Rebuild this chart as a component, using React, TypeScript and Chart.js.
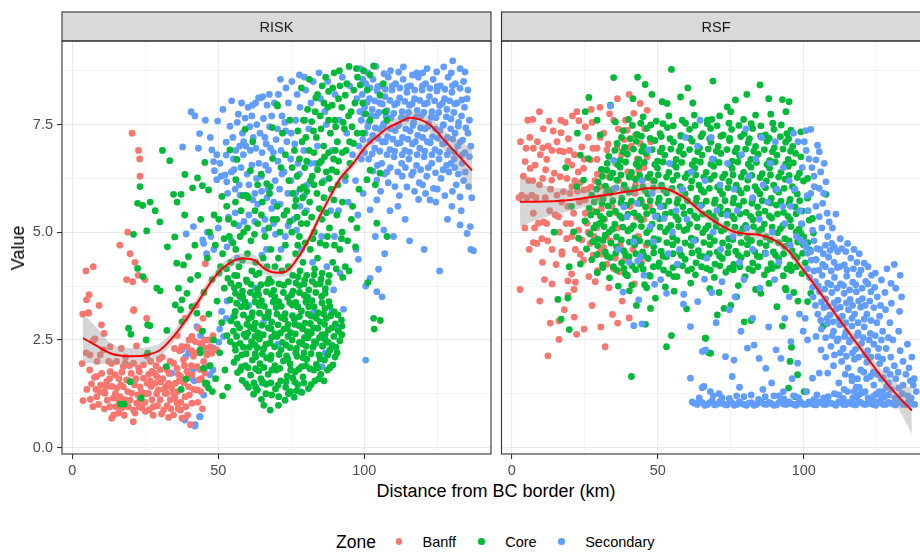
import React, { useEffect, useRef } from "react";
import { Chart, registerables } from "chart.js";

Chart.register(...registerables);

const FONT = '"Liberation Sans", Arial, Helvetica, sans-serif';
const BANFF = "#F8766D";
const CORE = "#00BA38";
const SECONDARY = "#619CFF";
const GRID = "#EBEBEB";
const INK = "#333333";
const POINT_R = 3.4;

// axis ranges and breaks
const X_MIN = -3.5;
const X_MAX = 143.4;
const Y_MIN = -0.15;
const Y_MAX = 9.44;
const xMajor = [0, 50, 100];
const xMinor = [25, 75, 125];
const yMajor = [0, 2.5, 5, 7.5];
const yMinor = [1.25, 3.75, 6.25, 8.75];

// ---- RISK panel: observations as flat x,y pairs ----
const riskBanff = [
  20.5,7.3, 22.7,6.9, 23.1,6.7, 23.2,6.3, 19,5.0, 16.3,4.7, 19.8,4.5, 4.7,4.1, 7.2,4.2, 21.5,4.3, 22.6,4.0, 24.9,3.9,
  20.7,3.85, 18.6,3.9, 5.8,3.55, 4.9,3.43, 9.2,3.3, 3.6,3.1, 5.5,3.13, 21.1,3.2, 25.5,3.0, 26,2.85, 22,2.36, 45.6,4.27,
  43.2,2.77, 41,2.58, 42.1,2.46, 39.3,2.34, 44.5,2.4, 46,2.3, 47.8,2.19, 49.5,2.27, 46.6,2.5, 7.3,2.5, 10.7,2.27, 13,2.34,
  9.6,2.15, 18.1,1.96, 25.6,2.12, 6.1,2.15, 7.8,2.52, 10.9,2.65, 21,3.18, 5.6,3.12, 38.7,3.0,
  3.7,1.09, 6.6,1.48, 7.6,1.63, 8.4,1.18, 9.5,1.3, 8.4,1.65, 11.8,1.53, 13,1.76, 13.5,0.68, 15.8,0.8, 16.4,1.18, 17.5,1.41,
  18.6,1.57, 19.2,0.95, 21.5,0.8, 22.1,1.03, 23.2,1.41, 24.4,1.61, 25,0.84, 26.1,1.26, 27.3,1.11, 27.8,0.95, 28.4,1.49,
  29.5,1.34, 30.1,1.11, 31.3,0.87, 31.8,1.26, 33,1.49, 33.6,1.11, 34.7,0.76, 35.9,1.03, 37.1,0.87, 37.6,0.68, 40.5,0.53,
  38.6,1.18, 39.8,1.41, 41,1.03, 42.7,1.34, 43.3,1.57, 42.7,1.88, 43.8,1.81, 45,2.0, 41.5,2.12, 38.1,2.04, 34.7,1.96,
  32.4,1.81, 30.1,1.81, 27.3,1.77, 24.4,1.92, 21,1.96, 17.5,1.88, 14.7,1.69, 11.2,1.26, 14.1,1.15, 15.3,1.38, 20.4,1.26,
  18.1,1.11, 21,0.87, 23.2,1.11, 25.6,1.49, 29,1.65, 32.4,1.26, 34.7,1.26, 35.3,1.49, 37.1,1.65, 35.9,1.84, 39.3,1.77,
  41,1.69, 45.5,1.73, 46.1,2.15, 47.3,2.34, 43.8,2.42,
  12,1.1, 13.6,1.42, 16,1.6, 19,1.3, 20.2,1.72, 22.5,1.22, 24,0.92, 26.2,1.7, 27,1.42, 29.2,0.97, 31,1.6, 32.5,0.97,
  33.2,1.72, 36.1,1.3, 37.2,1.05, 38.2,1.5, 40.1,1.22, 40.8,1.9, 44,1.3, 44.6,0.9, 10.1,1.72, 9,1.0, 6.2,1.12, 11,0.9,
  14.2,0.76, 17,0.92, 21.3,1.46, 25.1,1.25, 28.2,1.72, 30.2,1.52, 34,1.38, 23,1.76, 18.3,2.1, 15.2,2.0, 19.5,1.55,
  26.8,2.0, 30.8,2.1, 36.7,2.25, 40,2.5, 42.5,3.3, 44.8,3.0, 36,2.6, 10,2.85, 8.5,2.0, 4.8,2.2, 3.4,1.95, 6,1.8, 9.7,1.45,
  12.5,2.0, 16.8,2.3,
  5,1.35, 7.1,0.95, 10.8,1.28, 12.8,1.6, 14.8,1.25, 16.6,1.45, 17.8,0.75, 19.8,1.1, 21.8,1.6, 22.9,0.95, 24.9,1.05,
  26.4,0.88, 28.9,1.25, 30.6,0.78, 32,1.42, 33.8,0.9, 35.2,1.15, 36.6,1.55, 38.9,0.95, 39.7,1.65, 41.6,1.35, 43,1.05,
  44.2,1.6, 45.8,1.45, 47,1.9, 45.3,2.5, 48.2,2.6, 23.7,1.3, 26.7,1.55, 28.7,1.9, 31.5,1.35, 33.5,2.0, 36.3,1.7,
  38.4,1.9, 40.9,2.25, 19.6,1.9, 17,1.75, 13.5,1.95, 11.5,1.4, 8.1,1.35, 12.9,0.95, 16,1.1, 20.9,0.6, 22.7,1.85,
  29.8,2.05, 35,2.3, 37.5,2.35, 42.3,2.2, 27.7,0.75, 33,0.7, 36.3,0.9, 39.5,0.75, 15,0.95,
];

const riskCore = [
  // dense lower cluster
  67.8,0.87, 70.6,0.98, 64.8,1.12, 72.9,1.1, 68.3,1.22, 76,1.17, 62.1,1.24, 78.6,1.28, 73.1,1.4,
  60.3,1.4, 63.4,1.33, 66.4,1.47, 69.6,1.36, 71.4,1.55, 74.8,1.3, 77.2,1.46, 80.9,1.37, 83.1,1.55, 58.2,1.56, 64.6,1.6, 75.5,1.62,
  56.6,1.74, 61.1,1.68, 62.8,1.83, 67.1,1.7, 69.9,1.8, 73.6,1.66, 76.4,1.76, 79,1.64, 81.4,1.83, 85.1,1.7, 87.4,1.8, 86.2,1.55, 59.3,1.9,
  55.4,1.98, 58,1.87, 61.7,2.03, 64.3,1.95, 66.6,2.08, 69.4,1.9, 72.3,2.01, 74.6,1.94, 78.5,1.88, 80.3,2.05, 83.6,1.93, 86.4,2.03, 89.3,1.92, 77,2.12,
  55.9,2.26, 58.1,2.15, 60.6,2.33, 62.7,2.18, 65.5,2.29, 68.1,2.14, 71.5,2.27, 73.4,2.13, 76.8,2.3, 79.4,2.2, 82.4,2.33, 84.5,2.15, 88.2,2.26, 90.7,2.2,
  54.1,2.46, 57.5,2.42, 59.5,2.57, 62.5,2.39, 64.1,2.52, 67.7,2.43, 70.1,2.58, 73.2,2.38, 75.3,2.5, 78.7,2.41, 80.8,2.55, 83.4,2.42, 86.7,2.5, 89,2.37, 91.6,2.48,
  55.2,2.7, 58.8,2.63, 61,2.8, 63.6,2.66, 67.1,2.78, 69.4,2.64, 72.5,2.75, 74.8,2.67, 77.6,2.83, 80.5,2.69, 82.6,2.78, 85.5,2.62, 87.7,2.73, 91.1,2.7,
  54.4,2.94, 56.5,2.87, 60.4,2.99, 62.7,2.89, 65.9,3.03, 68.3,2.91, 71.6,3.02, 73.9,2.86, 76.1,2.98, 79.7,2.89, 81.9,3.05, 84.9,2.92, 87,3.0, 90.1,2.87, 92.2,2.96,
  55.8,3.16, 57.8,3.27, 61.7,3.13, 64,3.3, 67.2,3.15, 69.8,3.25, 72.9,3.11, 75.4,3.31, 78.5,3.17, 81,3.27, 84.2,3.13, 86.5,3.23, 89.7,3.15,
  54.1,3.43, 57.4,3.51, 59.2,3.38, 62.6,3.53, 64.8,3.41, 68.1,3.56, 70.7,3.39, 73.8,3.48, 76.5,3.37, 79.5,3.53, 82.1,3.41, 85.4,3.51, 87.9,3.39,
  55.5,3.71, 58.3,3.63, 61.2,3.79, 63.5,3.67, 66.8,3.81, 69,3.65, 72.4,3.77, 75.6,3.63, 77.8,3.76, 81,3.66, 83.4,3.79, 86.7,3.69,
  53.3,3.93, 56.4,3.99, 59.6,3.89, 62.9,4.01, 67.4,3.91, 77.3,3.96, 79.6,3.89, 82.8,4.01, 85.2,3.91,
  59.5,1.48, 62.2,1.5, 65.3,1.52, 68,1.5, 70.5,1.45, 73.3,1.53, 76.2,1.52, 79.3,1.5, 81.8,1.46, 84.5,1.6,
  57.6,1.8, 60.2,1.85, 63.9,1.78, 65.6,1.86, 68.4,1.8, 71.1,1.84, 74.8,1.8, 77.6,1.82, 80,1.9, 82.7,1.8, 84.1,1.85, 88.3,1.86,
  56.5,2.08, 59.6,2.18, 62.8,2.1, 65.1,2.17, 67.9,2.05, 70.8,2.16, 73.8,2.06, 76.5,2.2, 79.1,2.08, 81.8,2.18, 84.9,2.06, 87.5,2.15, 90,2.1,
  55.7,2.38, 58.6,2.33, 61.4,2.46, 63.4,2.32, 66.3,2.4, 69.3,2.34, 72,2.44, 74.6,2.32, 77.8,2.44, 80.1,2.35, 82.9,2.46, 85.7,2.36, 87.7,2.44, 90.3,2.33,
  56.3,2.58, 60.1,2.66, 62.6,2.58, 65.4,2.62, 68.3,2.56, 71.3,2.66, 73.9,2.58, 76.4,2.64, 79.5,2.55, 81.9,2.66, 84.7,2.55, 86.6,2.62, 89.6,2.58, 92.3,2.62,
  57.3,2.78, 59.8,2.86, 62.3,2.76, 64.9,2.84, 68.1,2.76, 70.5,2.85, 73.6,2.77, 76.2,2.86, 78.9,2.76, 81.5,2.88, 84.1,2.77, 86.4,2.86, 89,2.78, 92.4,2.82,
  55.5,3.05, 58.6,3.08, 61.4,3.03, 64.1,3.12, 66.9,3.02, 70.1,3.1, 72.8,2.98, 75.4,3.06, 77.8,3.04, 80.8,3.1, 83.6,3.0, 86.1,3.1, 88.5,3.06, 91,3.08,
  56.3,3.35, 59.8,3.27, 62.6,3.38, 65.8,3.28, 68.8,3.38, 71.6,3.28, 74.5,3.36, 77.2,3.27, 80,3.38, 82.8,3.27, 85.5,3.36, 88.2,3.28,
  55.9,3.58, 58.4,3.5, 61,3.6, 63.8,3.55, 66.5,3.62, 69.4,3.5, 72.3,3.6, 75.1,3.55, 77.8,3.6, 80.6,3.5, 83.4,3.6, 86.6,3.58,
  54.3,3.82, 57,3.77, 59.9,3.85, 64.6,3.78, 68.2,3.84, 70.8,3.8, 74,3.85, 76.6,3.82, 79.4,3.8, 82.2,3.86, 84.9,3.8, 87.7,3.84,
  66.3,1.25, 70.7,1.18, 74,1.25, 76.9,1.32, 65.6,0.98, 62.8,1.4,
  // left flank
  45.5,1.5, 47.2,1.9, 49.1,1.6, 50.5,2.2, 52.3,1.8, 48.4,2.5, 51.2,2.9, 53,2.6, 46.8,3.1, 49.6,3.4, 52.1,3.7, 47.9,3.9,
  50.8,4.2, 46.3,4.4, 44.6,2.7, 43.9,2.2, 45.1,3.6, 53.2,1.4, 51.5,1.2, 48,1.3,
  // middle shelf
  49,4.7, 51.5,4.5, 53.8,4.9, 56,4.6, 58.7,5.0, 61.2,4.8, 63.5,5.2, 66,4.9, 68.7,5.3, 71.1,5.0, 50.2,5.3, 52.9,5.6,
  55.4,5.2, 57.8,5.5, 60.3,5.8, 62.6,5.5, 65.1,5.7, 67.6,5.9, 70.2,5.6, 72.5,5.4, 54.3,4.3, 57.1,4.2, 60,4.5, 62.8,4.3,
  65.4,4.4, 68,4.6, 70.6,4.4, 73,4.7, 59.8,5.85, 64.7,6.35, 66.6,6.13, 67.8,6.06, 61,6.43, 56,6.22, 58.4,5.85, 51.3,5.83,
  48.6,5.4, 47,5.0, 63.5,6.1,
  50.3,4.05, 52.8,4.15, 55.6,4.0, 58.3,4.35, 61.5,4.1, 64,4.05, 66.7,4.2, 69.4,4.2, 71.8,4.1, 52,4.85, 55,4.75, 57.5,4.9,
  60,5.1, 62.4,4.95, 64.8,5.4, 67.3,5.1, 70,5.3, 55.9,5.7, 53.5,5.3,
  // rising band
  74,4.2, 76.5,4.5, 79,4.3, 81.5,4.6, 84,4.4, 86.8,4.7, 89.2,4.3, 91.6,4.6, 93.5,4.2, 75.2,5.0, 77.8,4.9, 80.4,5.2,
  82.9,5.0, 85.5,5.3, 88.1,5.1, 90.6,5.4, 92.4,5.0, 94.3,4.8, 73.5,5.5, 76.3,5.6, 78.9,5.8, 81.3,5.7, 83.8,5.9, 86.2,5.8,
  88.7,6.0, 91,6.1, 74.2,6.2, 77,6.3, 79.6,6.5, 82.2,6.3, 84.5,6.6, 87,6.4, 89.5,6.7, 76.1,6.9, 78.7,7.1, 81.1,6.9,
  83.6,7.2, 86.1,7.0, 88.4,7.3, 90.8,7.1, 93.2,7.4, 79.2,7.6, 82,7.57, 84.9,7.7, 87.5,7.9, 89.9,7.6, 92.3,7.9, 94.6,7.7,
  96.8,8.0, 83.4,8.12, 87.8,8.27, 93.5,8.18, 98.6,8.42, 101,8.3, 102,8.65, 103.2,8.86, 106.5,8.45, 105.4,8.18, 102,7.6,
  107.2,7.8, 107.8,7.6, 96.3,7.06, 95.1,6.6, 102,6.44, 105.4,6.37, 100.9,6.22, 103.8,6.1, 104.3,5.21, 107.8,4.9, 97,4.66,
  101.2,3.83, 103.2,3.0, 105.5,2.95, 103.4,2.75, 70.1,7.96, 68.5,7.43, 70.3,7.93, 72,7.3, 74.5,7.6, 73,6.8, 71.5,6.5,
  96,5.6, 98.2,6.0, 97.5,5.1, 99.5,7.3, 95.5,7.8, 91.7,8.4, 85.6,8.4, 89.7,8.7, 97.7,8.6,
  75.5,4.0, 78,4.1, 80.3,4.0, 83,4.15, 85.6,4.05, 88,4.0, 90.4,4.15, 92.6,3.95, 94.8,4.1, 77.2,4.7, 79.8,4.75, 82.4,4.85,
  84.9,4.75, 87.4,4.9, 89.8,4.7, 92.2,4.85, 95.6,5.3, 74.5,5.25, 77,5.35, 79.6,5.45, 82,5.35, 84.6,5.55, 87,5.45, 89.6,5.75,
  92.5,5.7, 93.5,6.3, 75.5,5.9, 78,6.0, 80.3,5.95, 82.8,6.1, 85.5,6.15, 88,6.25, 90.5,6.4, 92.5,6.85, 75.3,6.5, 77.8,6.7,
  80.3,6.65, 82.8,6.85, 85.3,6.65, 87.8,6.85, 90.1,6.9, 77.3,7.35, 80,7.2, 82.6,7.35, 85.2,7.4, 87.8,7.6, 90.2,7.45,
  92.8,7.55, 95,7.1, 80.6,7.85, 83.2,7.8, 86.2,8.0, 89,7.95, 91.2,8.1, 94,8.45, 96.4,8.3, 99.5,8.0, 100.5,7.75,
  78.5,8.35, 81.2,8.55, 84,8.2, 86.8,8.6, 89.2,8.35, 91.5,8.75, 94.8,8.85, 97.3,8.8, 99.8,8.75, 95.8,7.45, 97.6,7.3,
  93.8,6.9, 91.2,6.65, 88.9,6.45, 86.4,6.75, 84,6.45, 81.6,6.2, 79.2,6.05, 76.6,5.75, 78.4,5.2,
  // scattered to the left
  30.9,6.9, 33.4,6.66, 23.2,6.06, 22.4,5.67, 24.1,5.62, 26.7,5.7, 28.4,5.5, 30,5.24, 25.5,5.03, 21,4.95, 35.1,4.89,
  34.7,5.88, 37.3,5.88, 35.9,5.7, 38.6,6.34, 42.9,6.26, 41.2,6.03, 44.6,6.08, 46.7,5.98, 45.4,6.62, 54,6.91, 56.4,6.69,
  59.2,7.39, 61.8,7.1, 68.6,6.71, 32.6,4.66, 35.8,4.28, 38.1,4.24, 39.8,4.43, 22.4,4.16, 24.2,3.97, 29,3.7, 30.1,3.64,
  36.4,3.7, 39.3,3.58, 37.6,3.43, 35.3,3.31, 37.1,3.2, 41,3.27, 42.7,3.12, 19.3,2.77, 20.1,2.63, 25.8,2.85, 25.3,2.5,
  32.4,2.72, 37.6,2.92, 25.8,2.19, 32.2,1.88, 19.8,1.53, 23.6,1.15, 17.8,1.01, 16.4,1.01, 39,1.59, 37.3,1.35, 46.1,1.49,
  46.7,1.38, 44.9,1.84, 43.8,2.27, 26.6,2.83, 38.5,5.4, 42,4.7, 44,5.3, 40.5,3.9, 43,4.0,
];

const riskSecondary = [
  // lower left and middle
  42,0.5, 43.6,0.72, 37.8,0.68, 42.1,0.53, 38.6,0.64, 43.8,0.72, 41.5,1.81, 41,1.61, 45,1.22, 47.2,1.69, 48.2,1.8,
  46.1,1.88, 34.1,1.73, 33.6,1.73, 37.5,2.27, 38.8,2.1, 39.8,2.19, 41.8,1.55, 42.7,2.81, 43.9,2.6, 46.1,2.23, 48.5,2.3,
  51.8,2.58, 50.5,2.75, 50.2,2.45, 55.2,3.04, 52.8,3.0, 51.2,3.16, 53,3.4, 45,4.74, 46,4.5, 48.5,4.6, 47.5,4.9, 53,4.66,
  54.5,4.8, 56.5,4.4, 64.9,4.47, 66.5,4.6, 63.8,2.65, 65.5,2.9, 67.2,3.1, 60.5,3.3, 58.2,3.45, 62.7,3.7, 70.5,2.4, 76,3.0,
  82.6,3.13, 85.8,2.35, 86.6,2.19, 85.5,1.88, 88.9,3.16, 89.5,3.66, 91.7,4.05, 92.9,3.21, 90.5,2.8, 98,4.37, 97.2,4.6,
  102,3.93, 100.5,3.75, 104.9,4.14, 104.3,3.62, 106.1,3.5, 100.5,2.03, 65,1.5, 78,1.3,
  // upper left
  40.7,7.8, 42,7.7, 49.8,7.58, 43.6,7.29, 37.8,6.98, 43.2,6.95, 47.8,6.91, 49.5,6.8, 48.4,6.64, 48.7,6.43, 52.9,6.17,
  54.5,6.4, 57.5,5.86, 55.8,6.0, 59.2,5.86, 63.8,8.12, 64.6,8.12, 56.9,7.74, 59.2,7.65, 61.5,7.7, 63.2,7.5, 65.5,7.64,
  68.3,7.7, 54,7.46, 52.7,7.09, 55,7.2, 57.3,7.0, 59.5,7.0, 52.7,6.79, 55.2,6.7, 57.8,6.5, 61.5,6.56, 63.9,6.6, 67.2,6.44,
  69.5,6.2, 41.5,5.13, 39,4.96, 44.7,4.82, 46.3,5.0, 49.5,6.22, 51,6.3, 52.3,6.33, 60.5,6.1, 62.5,5.9, 66,5.3, 69,5.7,
  71.5,6.9, 73.5,7.1, 66,7.2, 62,7.2, 69.2,8.0, 71.8,7.7, 74,8.0, 76.5,7.6, 78,7.9, 75,7.3, 77.3,6.6, 80.5,6.1, 78,5.6,
  71,6.0, 73.8,5.9, 75.8,5.3, 73,4.9, 78.5,4.6, 71.5,4.6, 60.5,5.4, 57,5.15, 53.5,5.35, 50,5.1,
  62.8,8.0, 66.7,7.95, 70.6,8.2, 73.2,8.35, 77,8.2, 79.5,8.6, 84.5,8.7, 87.5,8.5, 58.3,7.3, 60.8,7.45, 64.3,7.3, 67.6,7.45,
  70.3,7.4, 72.8,7.55, 56,6.9, 58.6,6.8, 61,6.9, 65,6.85, 67.9,6.95, 70.4,6.65, 72.5,6.4, 74.8,6.7, 64.8,6.3, 67,6.0,
  63.5,5.65, 66.7,5.8, 76.5,5.9, 69,5.2,
  56.5,7.55, 58,8.0, 60.2,7.9, 61.7,7.95, 65.2,8.15, 67.5,8.2, 71.3,8.55, 75.2,8.5, 77.8,8.65, 58.7,7.1, 62.9,6.95,
  66.4,7.05, 69.8,7.15, 73.1,7.35, 76.2,7.05, 79.8,7.6, 81.8,8.0, 55.4,6.45, 59.9,6.35, 63.1,6.25, 66.2,6.55, 68.9,6.85,
  71.8,6.35, 74.9,6.2, 77.8,6.35, 79.5,5.85, 81.5,6.6, 57.2,6.1, 61.8,5.75, 64.8,5.95, 68.3,5.55, 71.2,5.65, 73.9,5.15,
  76.8,5.05, 80.2,5.5, 62.5,5.25, 65.8,5.05, 69.6,4.95, 55.8,5.45, 58.8,5.25, 53.2,5.9, 50.6,6.6, 47.3,7.2, 45.6,7.6,
  51.6,7.85, 54.6,8.05,
  // mixed band
  80,8.3, 82.5,8.5, 85,8.1, 87,7.5, 90,8.2, 92.5,8.6, 95,8.4, 97.5,8.1, 99.5,8.55, 84,7.0, 86.5,7.8, 89,6.9, 91.5,7.6,
  94,7.3, 96,6.8, 98.5,7.8, 93.5,6.2, 91.2,5.5, 94.5,5.7, 97,6.2, 99,6.7, 97.8,5.4, 99.6,5.9, 81,7.4, 79.3,6.9, 83.2,6.6,
  86.3,6.2, 88.5,5.5, 85.4,4.9, 87.2,4.2, 89.8,4.9, 82.3,4.3,
  // dense upper right
  98.6,8.8, 104,8.85, 109,8.75, 113.4,8.84, 118,8.7, 121.5,8.8, 127.2,8.84, 130.3,8.98, 132.8,8.8,
  100.5,8.45, 103,8.55, 105.6,8.4, 108.2,8.6, 110.7,8.45, 113.3,8.55, 115.9,8.4, 118.5,8.6, 121,8.45, 123.6,8.55, 126.1,8.4, 128.7,8.6, 131.2,8.45, 134,8.5,
  99.3,8.2, 101.8,8.1, 104.4,8.28, 107,8.15, 109.5,8.3, 112.1,8.12, 114.6,8.25, 117.2,8.1, 119.8,8.3, 122.3,8.15, 124.9,8.28, 127.5,8.1, 130,8.25, 133.4,8.07,
  100.1,7.9, 102.7,7.85, 105.3,8.0, 107.8,7.82, 110.4,7.96, 113,7.8, 115.5,7.95, 118.1,7.83, 120.6,7.98, 123.2,7.8, 125.8,7.94, 128.3,7.85, 131,7.98, 134.3,7.9,
  99,7.6, 101.5,7.55, 104.1,7.7, 106.7,7.52, 109.2,7.66, 111.8,7.5, 114.4,7.64, 116.9,7.55, 119.5,7.7, 122,7.52, 124.6,7.66, 127.1,7.5, 129.7,7.63, 132.3,7.55,
  100.3,7.3, 102.9,7.25, 105.4,7.4, 108,7.22, 110.6,7.36, 113.1,7.2, 115.7,7.35, 118.3,7.25, 120.8,7.4, 123.4,7.22, 125.9,7.36, 128.5,7.2, 131.1,7.3, 133.7,7.14, 135.5,7.3,
  98.2,7.0, 103.6,6.95, 106.2,7.1, 108.8,6.92, 111.3,7.06, 113.9,6.9, 116.5,7.05, 119,6.95, 121.6,7.1, 124.2,6.92, 126.8,7.05, 129.3,6.9, 132,7.0, 134.5,6.85,
  101.5,6.7, 104.5,6.55, 107.8,6.4, 110.2,6.75, 112.8,6.6, 115.3,6.7, 117.9,6.55, 120.5,6.75, 123.1,6.6, 125.6,6.7, 128.2,6.55, 130.8,6.7, 133.5,6.6, 136,6.75,
  104.3,6.21, 106.9,6.35, 110.5,6.06, 113,6.3, 116.2,6.33, 118.8,6.15, 121.4,6.3, 123.7,6.02, 126.3,6.25, 129,6.4, 131.5,6.1, 135.7,6.06,
  101.2,8.7, 106.8,8.68, 111.8,8.72, 116.5,8.65, 120,8.7, 124.8,8.72, 129.8,8.7, 134.5,8.72,
  102,8.35, 104.6,8.38, 107.2,8.32, 109.6,8.4, 112.2,8.35, 114.8,8.38, 117.3,8.3, 119.9,8.4, 122.5,8.34, 125,8.38, 127.6,8.32, 130.2,8.4, 132.8,8.34, 135.5,8.3,
  101,8.02, 103.6,8.05, 106.2,7.98, 108.8,8.06, 111.3,8.0, 113.9,8.04, 116.4,7.98, 119,8.06, 121.6,8.0, 124.1,8.05, 126.7,7.99, 129.2,8.05, 131.8,8.0, 135.2,8.1,
  99.8,7.75, 102.4,7.7, 105,7.78, 107.5,7.68, 110.1,7.76, 112.7,7.66, 115.2,7.78, 117.8,7.68, 120.4,7.78, 122.9,7.67, 125.5,7.78, 128.1,7.68, 130.7,7.78, 133.3,7.7, 136,7.6,
  101.2,7.45, 103.8,7.42, 106.5,7.48, 109,7.4, 111.6,7.47, 114.2,7.4, 116.7,7.48, 119.3,7.42, 121.9,7.46, 124.4,7.4, 127,7.48, 129.6,7.4, 132.2,7.46, 134.8,7.42,
  99.5,7.15, 102,7.12, 104.6,7.18, 107.2,7.1, 109.8,7.16, 112.3,7.08, 114.9,7.16, 117.5,7.1, 120,7.2, 122.6,7.08, 125.2,7.18, 127.7,7.08, 130.3,7.16, 132.9,7.1, 136.5,7.0,
  100.1,6.85, 102.7,6.82, 105.3,6.88, 107.8,6.8, 110.4,6.88, 113,6.8, 115.5,6.86, 118.1,6.8, 120.7,6.88, 123.2,6.8, 125.8,6.86, 128.4,6.8, 131,6.86, 133.6,6.8,
  103,6.42, 106,6.6, 108.9,6.5, 111.5,6.4, 114.1,6.5, 116.8,6.4, 119.3,6.45, 121.9,6.5, 124.4,6.38, 127,6.45, 129.7,6.6, 132.2,6.35, 134.6,6.4,
  105.6,5.95, 108.2,6.15, 112,5.85, 114.6,6.05, 117.2,5.95, 120,6.1, 122.5,5.75, 125,6.0, 127.6,5.85, 130.2,5.95, 134,6.2, 136.8,5.8,
  // sparse below the crest
  102,5.52, 104.3,5.75, 106.7,5.05, 103.8,4.9, 118.6,5.76, 132.8,5.82, 136.3,5.13, 135.2,4.97, 137.4,4.57, 136.5,4.6,
  132.8,5.17, 130,5.6, 128.5,5.3, 124.5,5.7, 121,5.9, 111.5,5.6, 114,5.3, 108.8,5.5, 125.8,4.1, 120.5,4.6, 110,4.9,
  115.5,4.8, 133.2,5.5, 131,6.5, 107,4.5,
];

// loess fit for RISK: x, fitted value, standard-error half width
const riskFitX = [3.7, 8.4, 13, 16.9, 21, 25.6, 30.2, 34.7, 39.3, 43.9, 48.4, 52.9, 58.1, 62, 66.6, 70, 73, 78, 81.5, 85, 88.5, 91.8, 96.3, 100, 104.3, 108, 112.3, 115.7, 119, 122.6, 127.2, 131, 134, 136.9];
const riskFitY = [2.54, 2.36, 2.19, 2.13, 2.12, 2.15, 2.27, 2.58, 3.0, 3.47, 3.93, 4.24, 4.39, 4.36, 4.12, 4.06, 4.08, 4.48, 4.9, 5.4, 5.85, 6.25, 6.6, 6.95, 7.22, 7.42, 7.56, 7.66, 7.62, 7.49, 7.15, 6.87, 6.65, 6.43];
const riskFitSe = [0.56, 0.42, 0.24, 0.2, 0.19, 0.18, 0.15, 0.13, 0.12, 0.12, 0.12, 0.12, 0.12, 0.12, 0.11, 0.11, 0.11, 0.11, 0.11, 0.11, 0.11, 0.11, 0.11, 0.12, 0.12, 0.12, 0.13, 0.14, 0.15, 0.17, 0.22, 0.3, 0.4, 0.54];

// ---- RSF panel ----
const rsfBanff = [
  2.85,3.67, 12.4,2.13, 13.2,2.89, 16.2,2.51, 16.2,2.94, 21.4,3.03, 22.2,2.63, 24.8,2.75, 32,2.34, 34.5,3.09, 36.3,2.89,
  40.2,3.01, 21.3,3.67, 19.3,3.53, 19.2,3.87, 21.8,3.84, 33.3,3.71, 28.6,3.85, 26.4,3.97, 29.4,4.11, 15.2,4.25, 20.5,4.03,
  32.6,4.26, 34.9,4.16, 36.9,4.08, 38.6,4.35, 39.5,4.01, 17.2,4.49, 23.5,4.49, 27.9,4.47, 30.9,4.49, 38.9,4.52,
  7.2,7.62, 12.8,7.58, 4.9,6.95, 7.4,6.95, 10.6,6.96, 4.6,6.64, 6.3,6.48, 8,6.56, 12,6.69, 16.9,7.31, 19.4,7.17, 22.3,7.8,
  23,7.59, 25.2,7.45, 15.5,7.1, 16.3,6.89, 17.7,6.87, 14.6,6.37, 16.6,6.29, 13.7,6.21, 18.9,6.25, 20.6,6.56, 24.6,6.48,
  26.9,6.68, 29.2,6.69, 24,6.98, 29.2,6.95, 32.6,6.91, 34.9,7.6, 38.9,7.6, 41.8,7.76, 44,7.99, 46.4,7.83, 39.5,7.37,
  42.4,7.26, 44.1,7.06, 46.4,6.75, 43.5,6.44, 41.2,6.29, 33.2,6.29, 30.3,6.06, 24.6,5.98, 20.6,6.06, 17.7,5.94, 20,5.9,
  15.5,5.86, 14.9,5.4, 16,5.36, 21.2,5.44, 25.2,5.44, 25.8,5.21, 22.9,5.05, 20.6,4.9, 24,4.82, 26.9,4.74, 10.9,5.24,
  9.1,5.21, 7.4,5.44, 3.4,5.86, 6.9,5.86, 8.6,4.74, 7.4,4.76, 17.2,4.55, 30.3,4.55,
  9.5,6.1, 11.5,5.8, 13,5.5, 5.8,6.2, 8.8,7.1, 10.8,7.4, 12.5,7.0, 14.2,7.35, 18.3,7.55, 20.8,7.7, 21.5,6.8, 22.8,6.4,
  26.2,7.2, 27.5,7.55, 28.5,6.2, 31.5,7.3, 33.5,7.75, 36.5,7.4, 37.6,6.8, 35.6,6.6, 38.2,6.0, 40.5,5.6, 42.2,5.9, 44.8,6.2,
  45.2,5.3, 43.4,4.9, 41.5,4.6, 36.2,5.1, 34.3,5.6, 31.8,5.3, 29.8,5.8, 27.6,5.5, 28.2,4.9, 32.5,4.9, 35.5,4.4, 23.2,5.7,
  18.6,5.2, 12.3,4.8, 10.5,4.3, 13.8,3.8, 9.6,3.4, 11.2,3.9, 6,4.6, 4.5,5.1, 2.5,5.8, 4,6.3, 3,7.1, 5.5,7.6, 9.5,7.8,
  27.2,7.85, 30.2,7.9, 36.2,8.1, 40.2,8.2, 31.1,6.45, 26,6.0, 19.2,6.65, 23.4,6.15, 11.6,6.45, 8.3,5.8, 39.8,6.95,
  45.5,7.4, 47.6,7.1, 48.3,6.2, 47.2,5.6, 46,4.7, 18,3.2, 27.5,3.3, 30.5,2.8, 37.8,3.4, 42,3.8, 44.5,4.3,
  6.2,7.2, 9.8,6.8, 13.8,6.9, 16.8,7.6, 19.8,6.9, 21.6,6.2, 24.8,6.7, 27.8,6.95, 30.3,7.2, 33,7.05, 36,6.95, 38.5,7.15,
  40.9,7.0, 43,6.7, 45.3,6.5, 42.4,6.1, 39.7,6.4, 36.6,6.2, 34.7,6.0, 32.2,5.9, 29.3,6.35, 27.2,6.05, 25.2,5.75, 22.5,5.95,
  19.2,5.6, 17.1,5.7, 13.3,6.0, 10.6,6.25, 7.2,6.2, 5.2,5.8, 7.8,5.1, 10.3,4.85, 13.8,4.6, 16.3,5.0, 18.8,4.85, 21.8,4.6,
  24.6,4.35, 26.2,5.0, 29.1,5.1, 31.4,4.65, 33.8,4.8, 37.2,4.7, 39.8,5.05, 42.7,5.35, 44.6,5.7, 38.8,5.6, 35.7,5.45,
  30.7,5.55, 20.2,5.2, 12,5.2,
];

const rsfCore = [
  36.5,3.75, 40.3,3.64, 46.2,3.71, 52.6,3.73, 55.6,3.63, 61.3,3.82, 67.8,3.69, 71,3.6, 77.6,3.76, 83.5,3.67, 88.1,3.81, 93.7,3.7, 96.6,3.6,
  29.3,4.06, 33.5,3.94, 35.9,4.12, 39.6,3.99, 42.4,4.13, 47.4,3.98, 50.2,4.21, 53.8,4.04, 56.6,3.97, 60.3,4.11, 62.9,4.01, 66.8,4.16, 69.4,3.95, 73.3,4.07, 75.9,4.13, 79.9,3.97, 82.5,4.11, 86.5,4.01, 89.2,4.16, 93,3.99, 95.7,4.11, 99.4,4.04,
  27.4,4.36, 31.1,4.24, 33.7,4.41, 37.6,4.29, 40.2,4.43, 44.2,4.24, 46.7,4.39, 50.5,4.29, 53,4.43, 56.8,4.25, 59.4,4.37, 63.1,4.29, 65.7,4.43, 69.6,4.26, 72.1,4.39, 76,4.25, 78.6,4.41, 82.5,4.29, 85,4.43, 88.8,4.27, 91.4,4.39, 95.3,4.24, 97.8,4.41, 100.5,4.29,
  25.6,4.61, 29.4,4.69, 32,4.54, 35.9,4.66, 38.3,4.57, 42.1,4.71, 44.8,4.54, 48.6,4.66, 51.2,4.56, 55.1,4.71, 57.5,4.54, 61.4,4.69, 63.9,4.57, 67.9,4.71, 70.4,4.54, 74.3,4.67, 76.7,4.56, 80.7,4.71, 83.2,4.55, 87.1,4.69, 89.6,4.54, 93.5,4.67, 96,4.57, 99.9,4.71, 102,4.59,
  26.8,4.96, 29.5,4.84, 33.4,5.01, 35.9,4.89, 39.8,5.03, 42.2,4.87, 46.2,4.99, 48.7,4.85, 52.6,5.01, 55.1,4.89, 59,5.04, 61.5,4.86, 65.4,4.99, 67.9,4.89, 71.8,5.03, 74.3,4.85, 78.2,4.99, 80.7,4.87, 84.6,5.03, 87.1,4.89, 91,4.99, 93.5,4.85, 97.4,5.01, 100,4.89, 103.3,4.98,
  25.1,5.26, 28.9,5.17, 31.4,5.31, 35.3,5.19, 37.7,5.33, 41.7,5.15, 44.2,5.29, 48.1,5.19, 50.6,5.31, 54.5,5.16, 57,5.29, 60.9,5.19, 63.4,5.33, 67.3,5.15, 69.8,5.28, 73.7,5.19, 76.2,5.31, 80.1,5.16, 82.6,5.29, 86.5,5.19, 89,5.33, 92.9,5.16, 95.4,5.29, 99.3,5.19, 101.9,5.28,
  26.5,5.56, 29.1,5.47, 33,5.61, 35.5,5.49, 39.4,5.63, 41.9,5.45, 45.8,5.59, 48.3,5.49, 52.2,5.61, 54.7,5.46, 58.6,5.59, 61.1,5.49, 65,5.63, 67.5,5.45, 71.4,5.58, 73.9,5.49, 77.8,5.61, 80.3,5.46, 84.2,5.59, 86.7,5.49, 90.6,5.63, 93.1,5.46, 97,5.59, 99.5,5.49,
  27.4,5.86, 31.3,5.77, 33.8,5.91, 37.7,5.79, 40.2,5.93, 44.1,5.75, 46.6,5.89, 50.5,5.79, 53,5.91, 56.9,5.76, 59.4,5.89, 63.3,5.79, 65.8,5.93, 69.7,5.75, 72.2,5.88, 76.1,5.79, 78.6,5.91, 82.5,5.76, 85,5.89, 88.9,5.79, 91.4,5.93, 95.3,5.76, 97.8,5.89, 101.3,5.79,
  29.6,6.16, 32.1,6.07, 36,6.21, 38.5,6.09, 42.4,6.23, 44.9,6.05, 48.8,6.19, 51.3,6.09, 55.2,6.21, 57.7,6.06, 61.6,6.19, 64.1,6.09, 68,6.23, 70.5,6.05, 74.4,6.18, 76.9,6.09, 80.8,6.21, 83.3,6.06, 87.2,6.19, 89.7,6.09, 93.6,6.23, 96.1,6.06, 99.9,6.19,
  30.7,6.46, 34.6,6.37, 37.1,6.51, 41,6.39, 43.5,6.53, 47.4,6.35, 49.9,6.49, 53.8,6.39, 56.3,6.51, 60.2,6.36, 62.7,6.49, 66.6,6.39, 69.1,6.53, 73,6.35, 75.5,6.48, 79.4,6.39, 81.9,6.51, 85.8,6.36, 88.3,6.49, 92.2,6.39, 94.7,6.53, 98.5,6.37,
  33.2,6.76, 37.1,6.67, 39.6,6.81, 43.5,6.69, 46,6.83, 49.9,6.65, 52.4,6.79, 56.3,6.69, 58.8,6.81, 62.7,6.66, 65.2,6.79, 69.1,6.69, 71.6,6.83, 75.5,6.65, 78,6.78, 81.9,6.69, 84.4,6.81, 88.3,6.66, 90.8,6.79, 94.7,6.69, 97.2,6.83,
  36.1,7.06, 38.7,6.97, 42.6,7.11, 45.1,6.99, 49,7.13, 51.5,6.95, 55.4,7.09, 57.9,6.99, 61.8,7.11, 64.3,6.96, 68.2,7.09, 70.7,6.99, 74.6,7.13, 77.1,6.95, 81,7.08, 83.5,6.99, 87.4,7.11, 89.9,6.96, 93.8,7.09, 96.2,6.99,
  38.2,7.36, 42.9,7.27, 46.2,7.41, 50.8,7.29, 53.3,7.43, 57.9,7.25, 60.9,7.39, 65.4,7.29, 68.1,7.41, 72.4,7.26, 75.3,7.39, 79.6,7.29, 82.5,7.41, 86.9,7.26, 89.8,7.39, 94.2,7.29,
  40,7.62, 45,7.68, 49.5,7.58, 53.8,7.7, 58.4,7.6, 62.5,7.72, 67,7.6, 71.2,7.7, 75,7.8, 79.4,7.62, 83.5,7.72, 88.7,7.74, 93.9,7.8, 68.5,7.62,
  31.2,4.18, 34.8,4.2, 38.4,4.16, 41.2,4.22, 45,4.14, 48.5,4.2, 52,4.12, 55.2,4.18, 58.5,4.22, 61.6,4.15, 65,4.2, 68,4.12, 71.3,4.22, 74.6,4.16, 78.1,4.2, 81.2,4.15, 84.3,4.2, 87.6,4.13, 91,4.22, 94.2,4.15, 97.5,4.2,
  29.2,4.48, 32.7,4.44, 35.6,4.51, 39.1,4.46, 42.5,4.5, 45.3,4.45, 48.6,4.52, 51.8,4.44, 55.2,4.5, 58.1,4.46, 61.7,4.52, 64.4,4.45, 67.7,4.5, 71.2,4.44, 74,4.52, 77.5,4.47, 80.5,4.5, 84.1,4.44, 86.8,4.52, 90.3,4.47, 93.1,4.5, 96.8,4.45, 99.6,4.51,
  27.8,4.78, 31.2,4.81, 34,4.75, 37.5,4.82, 40.3,4.77, 43.8,4.8, 46.6,4.75, 50.2,4.83, 53.1,4.76, 56.6,4.81, 59.4,4.75, 62.9,4.82, 65.8,4.76, 69.4,4.8, 72.2,4.75, 75.7,4.83, 78.6,4.76, 82.1,4.81, 85,4.75, 88.6,4.82, 91.4,4.76, 95,4.8, 97.9,4.77, 101.4,4.76,
  28.1,5.1, 31.6,5.13, 34.5,5.07, 38,5.12, 40.8,5.08, 44.4,5.13, 47.2,5.07, 50.8,5.12, 53.6,5.08, 57.2,5.13, 60,5.07, 63.6,5.12, 66.4,5.08, 70,5.13, 72.8,5.07, 76.4,5.12, 79.2,5.08, 82.8,5.13, 85.6,5.07, 89.2,5.12, 92,5.08, 95.6,5.13, 98.4,5.07,
  27.1,5.4, 30.4,5.37, 33.5,5.43, 37,5.38, 39.8,5.42, 43.4,5.37, 46.2,5.43, 49.8,5.38, 52.6,5.42, 56.2,5.37, 59,5.43, 62.6,5.38, 65.4,5.42, 69,5.37, 71.8,5.43, 75.4,5.38, 78.2,5.42, 81.8,5.37, 84.6,5.43, 88.2,5.38, 91,5.42, 94.6,5.37, 97.4,5.43,
  28.2,5.7, 30.9,5.67, 34.6,5.73, 37.4,5.68, 41,5.72, 43.8,5.67, 47.4,5.73, 50.2,5.68, 53.8,5.72, 56.6,5.67, 60.2,5.73, 63,5.68, 66.6,5.72, 69.4,5.67, 73,5.73, 75.8,5.68, 79.4,5.72, 82.2,5.67, 85.8,5.73, 88.6,5.68, 92.2,5.72, 95,5.67, 98.6,5.73,
  29.1,6.0, 32.9,5.97, 35.7,6.03, 39.3,5.98, 42.1,6.02, 45.7,5.97, 48.5,6.03, 52.1,5.98, 54.9,6.02, 58.5,5.97, 61.3,6.03, 64.9,5.98, 67.7,6.02, 71.3,5.97, 74.1,6.03, 77.7,5.98, 80.5,6.02, 84.1,5.97, 86.9,6.03, 90.5,5.98, 93.3,6.02, 96.9,5.97,
  31,6.3, 33.8,6.27, 37.4,6.33, 40.2,6.28, 43.8,6.32, 46.6,6.27, 50.2,6.33, 53,6.28, 56.6,6.32, 59.4,6.27, 63,6.33, 65.8,6.28, 69.4,6.32, 72.2,6.27, 75.8,6.33, 78.6,6.28, 82.2,6.32, 85,6.27, 88.6,6.33, 91.4,6.28, 95,6.32, 97.8,6.27,
  32.7,6.6, 36.2,6.57, 39,6.63, 42.6,6.58, 45.4,6.62, 49,6.57, 51.8,6.63, 55.4,6.58, 58.2,6.62, 61.8,6.57, 64.6,6.63, 68.2,6.58, 71,6.62, 74.6,6.57, 77.4,6.63, 81,6.58, 83.8,6.62, 87.4,6.57, 90.2,6.63, 93.8,6.58, 96.4,6.61,
  35.3,6.9, 38.1,6.87, 41.7,6.93, 44.5,6.88, 48.1,6.92, 50.9,6.87, 54.5,6.93, 57.3,6.88, 60.9,6.92, 63.7,6.87, 67.3,6.93, 70.1,6.88, 73.7,6.92, 76.5,6.87, 80.1,6.93, 82.9,6.88, 86.5,6.92, 89.3,6.87, 92.9,6.93, 95.5,6.88,
  37.6,7.2, 40.6,7.17, 44.4,7.23, 47.4,7.18, 51.2,7.22, 54.2,7.17, 58,7.23, 61,7.18, 64.8,7.22, 67.8,7.17, 71.6,7.23, 74.6,7.18, 78.4,7.22, 81.4,7.17, 85.2,7.23, 88.2,7.18, 92,7.22, 94.8,7.17,
  41.3,7.48, 44.2,7.53, 47.6,7.49, 51.8,7.52, 55.3,7.47, 59.5,7.53, 62.8,7.48, 67,7.52, 70.3,7.47, 74.4,7.53, 77.8,7.48, 82,7.52, 85.3,7.47, 89.4,7.53, 92.3,7.49,
  // top fringe
  54.7,8.78, 34.9,8.59, 43.1,8.6, 45.7,8.43, 68.9,8.51, 85,8.42, 26.4,8.13, 92.7,8.08, 76.6,8.07, 73.8,7.91, 57.8,8.14,
  51.5,8.03, 41.5,8.1, 33.8,7.95, 95,8.03, 53.2,7.99, 48,8.2, 62,8.0, 80.5,8.2, 88,8.1, 29.2,7.6, 25.2,7.8, 35.5,7.56,
  30.3,7.26, 60.3,8.35,
  // lower left fringe
  15.8,3.44, 19.2,3.47, 16.9,2.98, 19.7,2.74, 23.5,4.26, 19.7,4.2, 38.9,4.03, 41.1,3.77, 42.7,3.3, 45.5,3.78, 47.1,4.0,
  49.2,3.47, 47.5,3.23, 45.8,2.86, 54.7,2.6, 53,2.34, 41,1.65, 55.5,3.97, 59.9,3.22, 66.3,2.54, 67.5,2.2, 23.5,6.79,
  26.3,6.71, 32.6,6.44, 24.6,6.21, 22.3,6.06, 30.3,5.21, 32,4.93, 21.2,5.01, 22.9,4.86, 20.5,5.6, 22.5,7.3, 18.5,6.5, 14.5,5.0,
  // lower right fringe
  94.8,1.38, 97,1.18, 99,1.03, 100.1,1.3, 97.9,1.69, 95.3,2.0, 95.8,2.33, 92.7,2.82, 90.8,3.27, 85.3,3.58, 79.6,2.92,
  82,2.95, 66.4,2.54, 68.1,2.19, 72.7,3.23, 70.4,3.08, 75,3.3, 77,3.5, 101.3,3.39, 104.2,4.36, 102.4,3.58, 106.7,2.82,
  93.9,3.66, 98,3.4, 103,5.32, 107.6,5.88, 99,4.97, 101.3,6.25, 99,6.75, 95.6,7.37, 99,7.33,
];

const rsfSecondary = [
  // floor of values near 1
  61.8,1.06, 63.5,1.0, 65.2,1.04, 67,1.0, 68.6,1.08, 70.3,1.01, 72,1.03, 73.7,0.99, 75.3,1.05, 77,1.0, 78.8,1.02, 80.4,0.98,
  82.1,1.04, 83.8,1.0, 85.5,1.06, 87.2,1.0, 88.9,1.02, 90.6,0.99, 92.3,1.04, 94,1.0, 95.7,1.02, 97.4,0.98, 99.1,1.05,
  100.8,1.0, 102.5,1.02, 104.2,0.99, 105.9,1.04, 107.6,1.0, 109.3,1.03, 111,0.98, 112.7,1.04, 114.4,1.0, 116.1,1.02,
  117.8,0.99, 119.5,1.05, 121.2,1.0, 122.9,1.02, 124.6,0.98, 126.3,1.04, 128,1.0, 129.7,1.03, 131.4,0.99, 133.1,1.04,
  134.8,1.0, 136.5,1.02, 138,1.0,
  62.6,1.03, 64.4,1.06, 66.1,0.98, 67.8,1.04, 69.5,0.99, 71.2,1.06, 72.9,1.0, 74.6,1.04, 76.2,0.98, 77.9,1.06, 79.6,1.0,
  81.3,1.03, 83,0.98, 84.7,1.05, 86.4,1.01, 88.1,1.05, 89.8,0.98, 91.5,1.05, 93.1,1.01, 94.9,1.06, 96.6,1.0, 98.3,1.04,
  99.9,1.0, 101.7,1.06, 103.4,1.0, 105.1,1.06, 106.8,1.0, 108.5,1.05, 110.2,1.01, 111.9,1.06, 113.6,1.0, 115.3,1.05,
  117,1.0, 118.7,1.06, 120.4,1.01, 122.1,1.05, 123.8,1.0, 125.5,1.06, 127.2,1.0, 128.9,1.05, 130.6,1.01, 132.3,1.06,
  134,1.0, 135.7,1.05, 137.3,1.01,
  64.2,1.15, 69,1.2, 74.5,1.14, 79.5,1.18, 84.5,1.12, 89.8,1.2, 93.2,1.13, 98.2,1.16, 103.5,1.12, 108.4,1.18, 113.5,1.14,
  118.5,1.2, 123.5,1.13, 127.5,1.17, 132.2,1.13, 135.6,1.2, 120.4,1.28, 110.5,1.25, 101,1.3, 125.8,1.3,
  104.5,1.22, 106.8,1.15, 112,1.22, 116.8,1.15, 119.3,1.25, 122,1.15, 124.8,1.24, 126.6,1.15, 129,1.22, 131.2,1.15,
  133.7,1.25, 136.8,1.15, 128.3,1.4, 132.5,1.38, 137.5,1.45, 113.8,1.35, 117.2,1.3, 96.5,1.2, 91.5,1.2, 86.8,1.18, 77,1.2, 72,1.15,
  // scattered middle
  66.4,2.27, 65.8,1.42, 73.2,2.11, 76.1,2.03, 75.5,1.65, 80.7,2.31, 83,2.38, 84.7,2.07, 87,1.84, 90.5,2.27, 92.2,2.07,
  95.6,2.46, 97.9,1.96, 101.3,2.5, 104.2,2.58, 105.9,2.27, 103,1.61, 105.3,1.73, 108.2,1.73, 61.2,2.81, 65.3,2.23,
  61.2,1.61, 65.2,1.39, 63.7,3.39, 58.9,3.56, 58.8,3.33, 53,3.58, 48.9,3.79, 38.1,3.61, 41.8,2.83, 44.6,2.87, 43.5,3.43,
  43.1,4.33, 56.7,4.26, 66,3.91, 68,1.3, 71,1.25, 78,1.4, 82,1.22, 86,1.35, 89,1.5, 93,1.3, 96,1.6, 70,2.9, 74.5,3.2,
  78.5,2.7, 82.5,3.0, 88,2.8, 93.5,3.0, 68.5,3.6, 72,3.85, 76.5,3.5, 79.5,3.9, 85,3.7, 90,3.9, 95,3.5, 98.5,3.1, 100.5,3.0,
  99.8,2.7, 107.5,2.1, 110.2,1.9, 112,1.5, 115,1.3, 118,1.4, 121,1.3, 124,1.2, 127,1.3, 130,1.35,
  // descending cloud
  100.7,4.66, 101.3,4.51, 99,4.82, 108.2,4.9, 109.6,4.74, 111.6,4.55, 114.4,4.55, 115,4.74, 112.5,4.85, 105.5,4.6, 103.5,4.8,
  102.5,4.35, 104.2,4.36, 106.5,4.25, 108.5,4.42, 110.4,4.3, 112.3,4.2, 113.9,4.24, 116.1,4.4, 118.2,4.3, 120.7,4.28, 103.5,4.1,
  102,3.95, 104,3.85, 106.3,4.0, 108.2,3.82, 110.5,3.95, 112.6,3.8, 114.7,3.98, 116.8,3.84, 118.9,4.02, 121.2,3.86, 123.2,4.0, 126.6,3.89, 129.9,3.81,
  103.2,3.5, 105.4,3.62, 107.5,3.45, 109.6,3.6, 111.7,3.42, 113.8,3.58, 115.9,3.44, 118,3.62, 120.1,3.46, 123,3.62, 125.2,3.5, 133.5,3.5,
  104.8,3.1, 106.9,3.25, 109,3.08, 111.1,3.22, 113.2,3.05, 115.3,3.2, 117.4,3.1, 119.5,3.26, 121.6,3.1, 124,3.25, 128,3.2, 132.8,3.16,
  106,2.75, 108.1,2.88, 110.2,2.7, 112.3,2.85, 114.4,2.68, 116.5,2.82, 118.6,2.66, 120.7,2.8, 122.8,2.65, 125,2.9, 130.5,2.5, 127,2.7,
  109.3,2.35, 111.4,2.48, 113.5,2.3, 115.6,2.45, 117.7,2.28, 119.8,2.42, 121.9,2.25, 124,2.4, 125.4,2.11, 128.2,2.3,
  113,2.0, 115.2,1.85, 117.3,2.05, 119.5,1.8, 121.6,1.98, 123.8,1.75, 126,1.95, 128.3,1.8, 131,1.9, 134,2.0,
  116.5,1.55, 119,1.4, 121.5,1.6, 124,1.45, 126.5,1.6, 129,1.5, 131.5,1.6, 134,1.45, 136.5,1.55, 138.5,1.3,
  135.5,2.4, 137,2.1, 136,1.85, 128.5,4.15, 133,4.0, 131,4.25,
  102.4,4.55, 104.5,4.62, 106.7,4.5, 109,4.58, 113,4.62, 117.2,4.6, 119,4.5,
  101.3,4.15, 105.2,4.12, 107.4,4.2, 109.4,4.1, 111.5,4.18, 114.8,4.12, 117,4.15, 119.6,4.12, 122,4.2, 124.5,4.05,
  103,3.72, 105,3.75, 107.2,3.68, 109.3,3.78, 111.4,3.7, 113.6,3.76, 115.7,3.66, 117.8,3.78, 120,3.7, 122,3.8, 124.3,3.72, 127.8,3.6, 131.5,3.7,
  104,3.3, 106.1,3.38, 108.2,3.28, 110.4,3.36, 112.5,3.26, 114.6,3.36, 116.7,3.3, 118.8,3.4, 121,3.3, 122.6,3.4, 126.3,3.3, 130,3.35,
  105.8,2.95, 108,3.0, 110.1,2.92, 112.2,2.98, 114.4,2.9, 116.5,3.0, 118.6,2.9, 120.7,2.98, 123,2.95, 126,3.05, 129.5,2.9,
  107.5,2.55, 109.7,2.6, 111.8,2.52, 114,2.58, 116,2.5, 118.2,2.6, 120.3,2.55, 122.4,2.5, 124.5,2.6, 126.6,2.5, 129,2.55, 132.5,2.7,
  110.5,2.15, 112.5,2.2, 114.6,2.12, 116.7,2.2, 118.8,2.1, 121,2.15, 123,2.1, 125.6,2.3, 127,2.05, 129.8,2.1, 133,2.25,
  114.2,1.7, 116.4,1.65, 118.4,1.6, 120.6,1.75, 122.8,1.65, 125,1.7, 127.2,1.62, 129.6,1.7, 132.3,1.75, 135,1.7, 137.8,1.6,
  // right edge of the main cloud
  102.4,7.39, 100.7,7.36, 104.7,7.02, 105.3,6.87, 104.2,6.68, 107,6.6, 107.6,6.17, 103.6,6.06, 105.3,6.02, 102.4,5.9,
  106.5,5.67, 108,5.44, 111,5.42, 108.7,5.24, 105.3,5.36, 98,7.1, 99.5,6.5, 97,6.0, 95.5,5.6, 99.2,5.2, 97.5,4.9,
  101.5,5.5, 102.8,6.5, 100.8,6.9, 96.5,7.3,
  100.2,7.1, 101.8,6.7, 103.5,6.3, 105.8,6.4, 106.8,5.9, 104.2,5.6, 106.2,5.1, 109.8,5.1, 107.4,4.7, 110.5,4.65,
  103,5.05, 101.2,5.85, 98.6,5.5, 100.2,4.75,
  // inside the main cloud
  33.8,7.93, 46.9,6.91, 34.9,6.67, 35.5,6.02, 38.3,5.59, 39.5,5.36, 42.9,5.67, 48.1,5.9, 50.9,5.59, 49.2,5.36, 47.5,5.13,
  52.1,5.32, 41.8,4.78, 48.6,4.78, 44.1,4.43, 55,5.0, 57.5,4.6, 60,5.3, 62.3,4.8, 64.5,5.6, 66.8,4.4, 69,5.0, 71.5,4.6,
  73.6,5.4, 75.8,4.9, 78,4.3, 80.5,5.1, 82.5,4.6, 84.8,5.3, 87,4.5, 89.2,5.0, 91.5,4.3, 93.5,5.2, 95.4,4.7, 58.5,6.0,
  61.5,6.4, 63.6,7.0, 66.2,6.2, 68.7,6.7, 71.3,6.1, 73.9,6.6, 76.2,6.0, 78.7,6.8, 81.2,6.3, 83.6,6.7, 86.1,6.1, 88.5,6.6,
  90.8,6.0, 93,6.5, 95,6.2, 85.5,7.2, 90.3,7.1, 80.2,7.4, 92.8,5.6, 87.6,5.7, 82.5,5.8, 77.2,5.5, 70.2,5.5, 56.3,5.5,
  53.6,4.5, 45.3,4.0, 40.2,4.3, 36.5,4.6, 51,3.9, 44.5,6.2, 54,6.6, 59.5,7.2, 64.5,7.6, 68.3,7.2,
];

// loess fit for RSF
const rsfFitX = [2.85, 8, 14.3, 20, 24.6, 30, 33.8, 38, 41.8, 46.4, 51.5, 55.5, 60.1, 64.7, 70.4, 76.1, 80.5, 85.3, 89.8, 94.4, 99, 104.7, 110.4, 116.2, 121.9, 127.6, 133.3, 137];
const rsfFitY = [5.71, 5.71, 5.72, 5.75, 5.79, 5.84, 5.88, 5.93, 5.96, 6.02, 6.02, 5.94, 5.75, 5.48, 5.21, 5.01, 4.96, 4.93, 4.82, 4.59, 4.2, 3.68, 3.14, 2.6, 2.07, 1.56, 1.12, 0.86];
const rsfFitSe = [0.58, 0.44, 0.32, 0.26, 0.21, 0.17, 0.15, 0.13, 0.12, 0.12, 0.11, 0.1, 0.1, 0.09, 0.09, 0.09, 0.09, 0.1, 0.1, 0.1, 0.1, 0.1, 0.1, 0.11, 0.13, 0.18, 0.32, 0.55];

type Pt = { x: number; y: number };

function toPoints(flat: number[]): Pt[] {
  const out: Pt[] = [];
  for (let i = 0; i + 1 < flat.length; i += 2) out.push({ x: flat[i], y: flat[i + 1] });
  return out;
}

function zipFit(xs: number[], ys: number[], offs: number[], sign: number): Pt[] {
  return xs.map((x, i) => ({ x, y: ys[i] + sign * offs[i] }));
}

// strip header and panel frame drawn over the plot
const panelFrame = {
  id: "panelFrame",
  afterDraw(chart: any, _args: any, opts: any) {
    const { ctx, chartArea: a } = chart;
    const w = a.right - a.left;
    ctx.save();
    ctx.fillStyle = "#D9D9D9";
    ctx.fillRect(a.left, 12, w, a.top - 12);
    ctx.strokeStyle = INK;
    ctx.lineWidth = 1.1;
    ctx.strokeRect(a.left, 12, w, a.top - 12);
    ctx.strokeRect(a.left, a.top, w, a.bottom - a.top);
    ctx.fillStyle = "#1A1A1A";
    ctx.font = `14.5px ${FONT}`;
    ctx.textAlign = "center";
    ctx.textBaseline = "alphabetic";
    ctx.fillText(opts.label, a.left + w / 2, 32);
    ctx.restore();
  },
};

type PanelSpec = {
  label: string;
  banff: number[];
  core: number[];
  secondary: number[];
  fitX: number[];
  fitY: number[];
  fitSe: number[];
  showY: boolean;
  yWidth: number;
  padRight: number;
  secondaryOnTop: boolean;
};

function scatterSet(flat: number[], color: string, order: number) {
  return {
    type: "scatter" as const,
    data: toPoints(flat),
    backgroundColor: color,
    borderColor: color,
    pointRadius: POINT_R,
    pointBorderWidth: 0,
    pointHoverRadius: 0,
    order,
  };
}

function buildPanel(canvas: HTMLCanvasElement, p: PanelSpec) {
  const xTicks = [...xMajor, ...xMinor].sort((a, b) => a - b);
  const yTicks = [...yMajor, ...yMinor].sort((a, b) => a - b);
  const lineBase = {
    showLine: true,
    pointRadius: 0,
    pointHoverRadius: 0,
    cubicInterpolationMode: "monotone" as const,
  };
  // lower order is painted later (on top)
  const coreOrder = p.secondaryOnTop ? 3 : 2;
  const secondaryOrder = p.secondaryOnTop ? 2 : 4;
  const banffOrder = p.secondaryOnTop ? 4 : 3;
  return new Chart(canvas, {
    type: "scatter",
    data: {
      datasets: [
        {
          ...lineBase,
          data: zipFit(p.fitX, p.fitY, p.fitSe, 1),
          fill: "+1",
          backgroundColor: "rgba(153,153,153,0.4)",
          borderColor: "rgba(0,0,0,0)",
          borderWidth: 0,
          order: 1,
        },
        {
          ...lineBase,
          data: zipFit(p.fitX, p.fitY, p.fitSe, -1),
          fill: false,
          borderColor: "rgba(0,0,0,0)",
          borderWidth: 0,
          order: 1,
        },
        {
          ...lineBase,
          data: zipFit(p.fitX, p.fitY, p.fitSe, 0),
          fill: false,
          borderColor: "#FF0000",
          borderWidth: 2,
          order: 0,
        },
        scatterSet(p.core, CORE, coreOrder),
        scatterSet(p.banff, BANFF, banffOrder),
        scatterSet(p.secondary, SECONDARY, secondaryOrder),
      ] as any,
    },
    options: {
      responsive: false,
      animation: false,
      devicePixelRatio: 1,
      events: [],
      layout: { padding: { top: 41, right: p.padRight, left: 0, bottom: 0 } },
      plugins: {
        legend: { display: false },
        tooltip: { enabled: false },
        panelFrame: { label: p.label },
      } as any,
      scales: {
        x: {
          type: "linear",
          min: X_MIN,
          max: X_MAX,
          afterBuildTicks: (s: any) => {
            s.ticks = xTicks.map((v) => ({ value: v }));
          },
          afterFit: (s: any) => {
            s.height = 26;
          },
          ticks: {
            autoSkip: false,
            maxRotation: 0,
            padding: 3,
            color: "#4D4D4D",
            font: { family: FONT, size: 14.5 },
            callback: (v: any) => (xMajor.includes(Number(v)) ? String(v) : ""),
          },
          grid: {
            color: GRID,
            lineWidth: (c: any) => (c.tick && xMajor.includes(c.tick.value) ? 1.1 : 0.55),
            tickLength: 5,
            tickWidth: 1.1,
            tickColor: (c: any) => (c.tick && xMajor.includes(c.tick.value) ? INK : "rgba(0,0,0,0)"),
          },
          border: { display: false },
        },
        y: {
          type: "linear",
          min: Y_MIN,
          max: Y_MAX,
          afterBuildTicks: (s: any) => {
            s.ticks = yTicks.map((v) => ({ value: v }));
          },
          afterFit: (s: any) => {
            s.width = p.yWidth;
          },
          ticks: {
            display: p.showY,
            autoSkip: false,
            padding: 4,
            color: "#4D4D4D",
            font: { family: FONT, size: 14.5 },
            callback: (v: any) => (yMajor.includes(Number(v)) ? Number(v).toFixed(1) : ""),
          },
          grid: {
            color: GRID,
            lineWidth: (c: any) => (c.tick && yMajor.includes(c.tick.value) ? 1.1 : 0.55),
            drawTicks: p.showY,
            tickLength: 5,
            tickWidth: 1.1,
            tickColor: (c: any) => (p.showY && c.tick && yMajor.includes(c.tick.value) ? INK : "rgba(0,0,0,0)"),
          },
          border: { display: false },
        },
      },
    } as any,
    plugins: [panelFrame],
  });
}

const textBase: React.CSSProperties = {
  position: "absolute",
  fontFamily: FONT,
  whiteSpace: "nowrap",
  lineHeight: "1",
};

function LegendKey({ cx, color, label }: { cx: number; color: string; label: string }) {
  return (
    <>
      <div
        style={{
          position: "absolute",
          left: cx - 3.3,
          top: 541.7 - 3.3,
          width: 6.6,
          height: 6.6,
          borderRadius: "50%",
          background: color,
        }}
      />
      <div style={{ ...textBase, left: cx + 23.5, top: 535, fontSize: 14.5, color: "#000" }}>{label}</div>
    </>
  );
}

export default function App() {
  const leftRef = useRef<HTMLCanvasElement | null>(null);
  const rightRef = useRef<HTMLCanvasElement | null>(null);

  useEffect(() => {
    if (!leftRef.current || !rightRef.current) return;
    const left = buildPanel(leftRef.current, {
      label: "RISK",
      banff: riskBanff,
      core: riskCore,
      secondary: riskSecondary,
      fitX: riskFitX,
      fitY: riskFitY,
      fitSe: riskFitSe,
      showY: true,
      yWidth: 62,
      padRight: 5,
      secondaryOnTop: false,
    });
    const right = buildPanel(rightRef.current, {
      label: "RSF",
      banff: rsfBanff,
      core: rsfCore,
      secondary: rsfSecondary,
      fitX: rsfFitX,
      fitY: rsfFitY,
      fitSe: rsfFitSe,
      showY: false,
      yWidth: 5.5,
      padRight: 5.5,
      secondaryOnTop: true,
    });
    return () => {
      left.destroy();
      right.destroy();
    };
  }, []);

  return (
    <div
      style={{
        position: "absolute",
        left: 0,
        top: 0,
        width: 920,
        height: 552,
        overflow: "hidden",
        background: "#FFFFFF",
      }}
    >
      <canvas
        ref={leftRef}
        width={496}
        height={480}
        style={{ position: "absolute", left: 0, top: 0, width: 496, height: 480 }}
      />
      <canvas
        ref={rightRef}
        width={440}
        height={480}
        style={{ position: "absolute", left: 496, top: 0, width: 440, height: 480 }}
      />
      <div
        style={{
          ...textBase,
          left: 18,
          top: 247.5,
          fontSize: 18,
          color: "#000",
          transform: "translate(-50%, -50%) rotate(-90deg)",
        }}
      >
        Value
      </div>
      <div
        style={{
          ...textBase,
          left: 62,
          width: 868,
          top: 482,
          fontSize: 18,
          color: "#000",
          textAlign: "center",
        }}
      >
        Distance from BC border (km)
      </div>
      <div style={{ ...textBase, left: 336, top: 534, fontSize: 17.5, color: "#000" }}>Zone</div>
      <LegendKey cx={399} color={BANFF} label="Banff" />
      <LegendKey cx={481.7} color={CORE} label="Core" />
      <LegendKey cx={561.7} color={SECONDARY} label="Secondary" />
    </div>
  );
}
